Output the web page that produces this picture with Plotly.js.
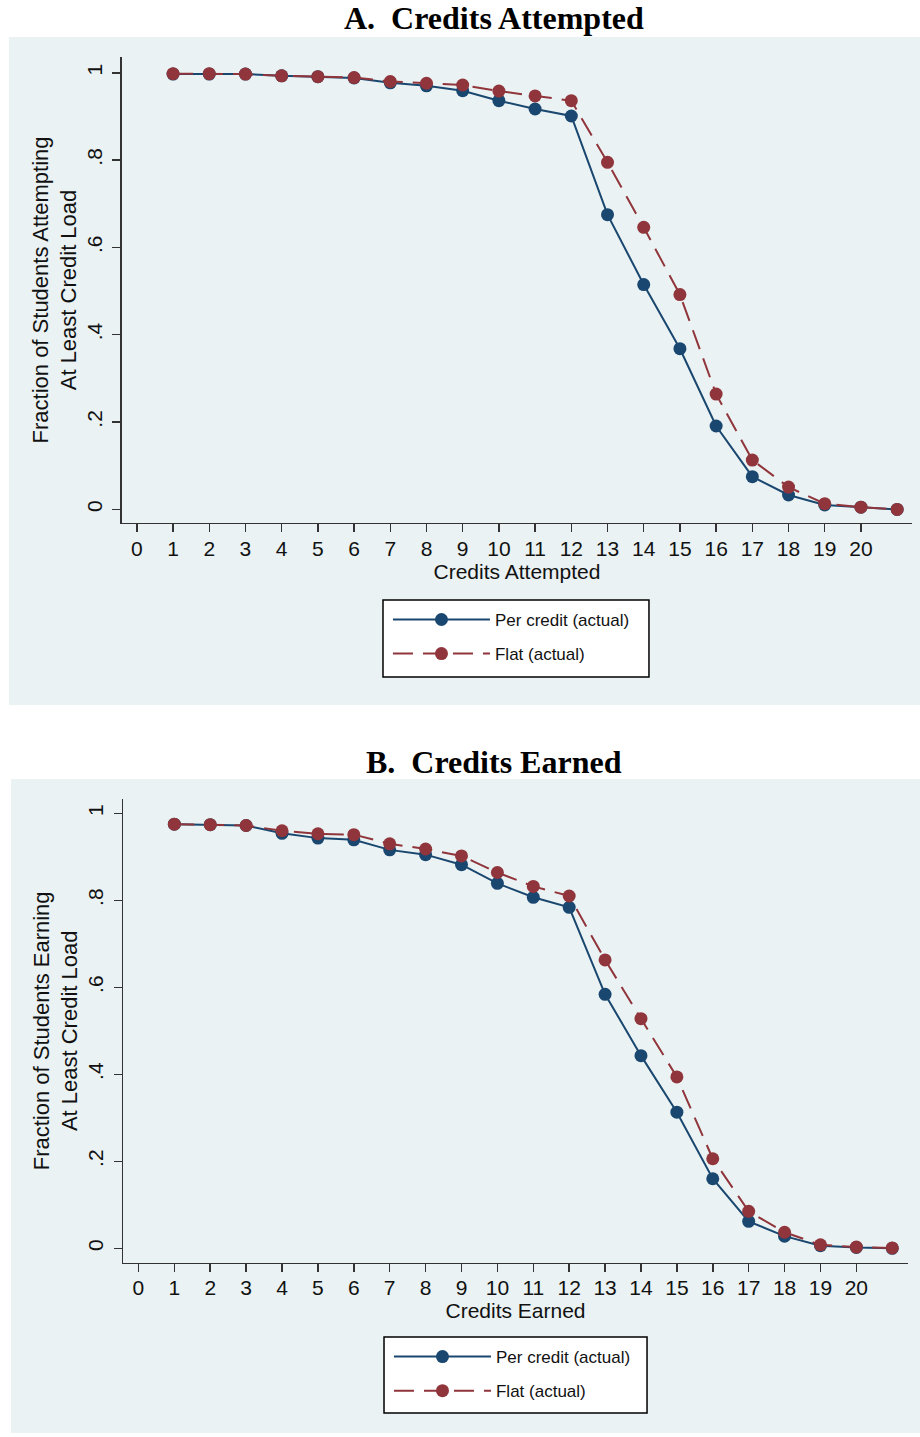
<!DOCTYPE html>
<html>
<head>
<meta charset="utf-8">
<script src="https://cdn.plot.ly/plotly-3.0.1.min.js"></script>
<style>html,body{margin:0;padding:0;background:#fff;}#chart{width:920px;height:1437px;}</style>
</head>
<body>
<div id="chart"></div>
<script>
// ---- data ----
const credits = [1,2,3,4,5,6,7,8,9,10,11,12,13,14,15,16,17,18,19,20,21];
const attemptedPerCredit = [0.997,0.997,0.997,0.993,0.991,0.988,0.977,0.970,0.959,0.936,0.917,0.901,0.675,0.515,0.368,0.191,0.075,0.033,0.010,0.005,0.000];
const attemptedFlat      = [0.998,0.998,0.997,0.993,0.991,0.989,0.980,0.976,0.972,0.958,0.947,0.936,0.795,0.646,0.492,0.264,0.113,0.051,0.013,0.005,0.000];
const earnedPerCredit    = [0.975,0.974,0.972,0.954,0.943,0.939,0.916,0.905,0.882,0.839,0.807,0.784,0.584,0.443,0.313,0.160,0.062,0.028,0.006,0.002,0.000];
const earnedFlat         = [0.975,0.974,0.972,0.960,0.953,0.951,0.930,0.918,0.902,0.864,0.832,0.810,0.663,0.528,0.394,0.206,0.085,0.037,0.008,0.003,0.001];
const xTickVals = [0,1,2,3,4,5,6,7,8,9,10,11,12,13,14,15,16,17,18,19,20];
const yTickVals = [0,0.2,0.4,0.6,0.8,1];
const yTickText = ["0",".2",".4",".6",".8","1"];
const seriesNames = ["Per credit (actual)","Flat (actual)"];

const NAVY = "#1A476F", MAROON = "#90353B", BG = "#EAF2F3";
const FONT = "Liberation Sans, Arial, sans-serif";

function line(x, y, name, color, dash, xa, ya, leg) {
  return {
    x: x, y: y, name: name, type: "scatter", mode: "lines+markers",
    xaxis: xa, yaxis: ya, legend: leg, legendgroup: name + leg,
    line: {color: color, width: 2, dash: dash},
    marker: {color: color, size: 13}
  };
}

const traces = [
  line(credits, attemptedPerCredit, seriesNames[0], NAVY, "solid", "x", "y", "legend"),
  line(credits, attemptedFlat, seriesNames[1], MAROON, "20px,10px", "x", "y", "legend"),
  line(credits, earnedPerCredit, seriesNames[0], NAVY, "solid", "x2", "y2", "legend2"),
  line(credits, earnedFlat, seriesNames[1], MAROON, "20px,10px", "x2", "y2", "legend2")
];

function xAxis(domain, range, anchor, title) {
  return {
    domain: domain, range: range, anchor: anchor,
    tickmode: "array", tickvals: xTickVals,
    ticks: "outside", ticklen: 8, tickwidth: 1.5, tickcolor: "#333",
    showline: true, linecolor: "#333", linewidth: 1.5,
    showgrid: false, zeroline: false,
    tickfont: {family: FONT, size: 21, color: "#111"},
    ticklabelstandoff: -2,
    title: {text: title, font: {family: FONT, size: 21, color: "#111"}, standoff: 2},
    fixedrange: true
  };
}
function yAxis(domain, range, anchor, title) {
  return {
    domain: domain, range: range, anchor: anchor,
    tickmode: "array", tickvals: yTickVals, ticktext: yTickText, tickangle: -90,
    ticks: "outside", ticklen: 8, tickwidth: 1.5, tickcolor: "#333",
    showline: true, linecolor: "#333", linewidth: 1.5,
    showgrid: true, gridcolor: BG, gridwidth: 2, zeroline: false,
    tickfont: {family: FONT, size: 21, color: "#111"},
    ticklabelstandoff: 2,
    title: {text: title, font: {family: FONT, size: 22, color: "#111"}, standoff: 0},
    fixedrange: true
  };
}

function legendBox(x, y) {
  return {
    x: x, y: y, xanchor: "left", yanchor: "top",
    bgcolor: "rgba(0,0,0,0)", borderwidth: 0,
    font: {family: FONT, size: 17, color: "#111"},
    itemwidth: 97, tracegroupgap: 9, traceorder: "grouped"
  };
}
function frame(x0, x1, y0, y1) {
  return {type: "rect", xref: "paper", yref: "paper", x0: x0, x1: x1, y0: y0, y1: y1,
          fillcolor: "#fff", line: {color: "#000", width: 1.5}, layer: "below"};
}

const layout = {
  width: 920, height: 1437,
  margin: {l: 0, r: 0, t: 0, b: 0},
  paper_bgcolor: "#fff", plot_bgcolor: "#fff",
  showlegend: true,
  xaxis:  xAxis([0.1326, 0.9913], [-0.41, 21.41], "y", "Credits Attempted"),
  yaxis:  yAxis([0.6361, 0.9603], [-0.031, 1.036], "x", "Fraction of Students Attempting<br>At Least Credit Load"),
  xaxis2: xAxis([0.1337, 0.9870], [-0.43, 21.44], "y2", "Credits Earned"),
  yaxis2: yAxis([0.1213, 0.4440], [-0.033, 1.033], "x2", "Fraction of Students Earning<br>At Least Credit Load"),
  legend: legendBox(0.4217, 0.5811),
  legend2: legendBox(0.4228, 0.0682),
  shapes: [
    {type: "rect", xref: "paper", yref: "paper", x0: 0.0098, x1: 1, y0: 0.5094, y1: 0.9743, fillcolor: BG, line: {width: 0}, layer: "below"},
    {type: "rect", xref: "paper", yref: "paper", x0: 0.012, x1: 1, y0: 0.0028, y1: 0.4579, fillcolor: BG, line: {width: 0}, layer: "below"},
    frame(0.4163, 0.7054, 0.5289, 0.5825),
    frame(0.4174, 0.7033, 0.0167, 0.0696)
  ],
  annotations: [
    {text: "<b>A.\u00A0 Credits Attempted</b>", xref: "paper", yref: "paper", x: 0.537, y: 0.9875, xanchor: "center", yanchor: "middle", showarrow: false,
     font: {family: "Liberation Serif, Times New Roman, serif", size: 32, color: "#000"}},
    {text: "<b>B.\u00A0 Credits Earned</b>", xref: "paper", yref: "paper", x: 0.537, y: 0.4697, xanchor: "center", yanchor: "middle", showarrow: false,
     font: {family: "Liberation Serif, Times New Roman, serif", size: 32, color: "#000"}}
  ]
};

Plotly.newPlot("chart", traces, layout, {displayModeBar: false, staticPlot: true});
</script>
</body>
</html>
